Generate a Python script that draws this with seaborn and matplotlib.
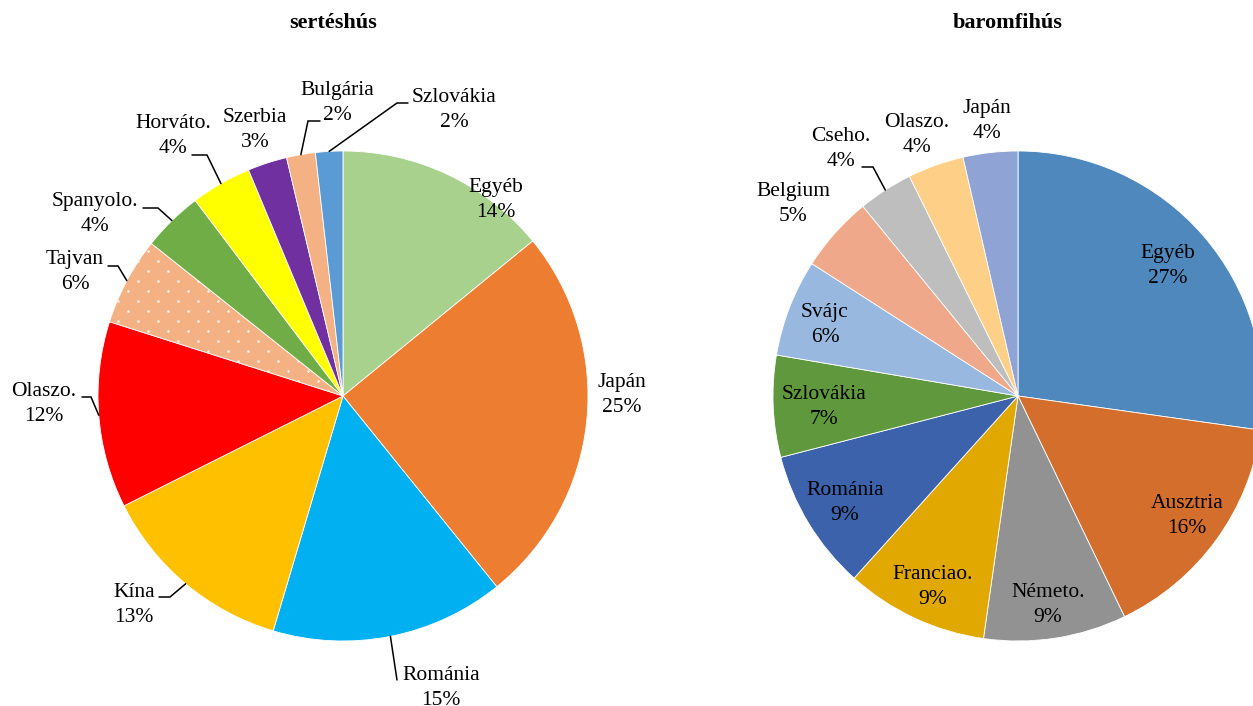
import numpy as np
import matplotlib
matplotlib.use("Agg")
import matplotlib.pyplot as plt
import seaborn as sns

# -----------------------------
# Data
# -----------------------------
pork_names = ["Egyéb", "Japán", "Románia", "Kína", "Olaszo.", "Tajvan",
              "Spanyolo.", "Horváto.", "Szerbia", "Bulgária", "Szlovákia"]
pork_values = [14.1, 25.1, 15.4, 13.0, 12.3, 5.8, 4.0, 4.0, 2.6, 1.9, 1.8]
pork_colors = ["#A9D18E", "#ED7D31", "#00B0F0", "#FFC000", "#FF0000", "#F4B183",
               "#70AD47", "#FFFF00", "#7030A0", "#F4B183", "#5B9BD5"]

poultry_names = ["Egyéb", "Ausztria", "Németo.", "Franciao.", "Románia", "Szlovákia",
                 "Svájc", "Belgium", "Cseho.", "Olaszo.", "Japán"]
poultry_values = [27.2, 15.6, 9.4, 9.4, 9.3, 6.7, 6.4, 5.0, 3.6, 3.7, 3.6]
poultry_colors = ["#4F88BC", "#D36E2C", "#929292", "#E0A800", "#3B62AB", "#5F983D",
                  "#98B8DF", "#F0A88A", "#BEBEBE", "#FECF87", "#8FA3D4"]

# -----------------------------
# Layout (pixels, from top-left)
# -----------------------------
W, H = 1253, 706
R = 245
pork_center = (343, 396)
poultry_center = (1018, 396)

# label block centre, optional leader (elbow, end)
pork_labels = [
    ((496, 200), None),
    ((622, 395), None),
    ((441, 688), ((397, 680), (397, 680))),
    ((134, 605), ((170, 597), (159, 597))),
    ((44, 404), ((91, 397), (82, 397))),
    ((75, 272), ((118, 266), (108, 266))),
    ((95, 214), ((158, 208), (143, 208))),
    ((173, 136), ((207, 155), (192, 155))),
    ((255, 130), None),
    ((337, 103), ((308, 121), (320, 121))),
    ((454, 110), ((397, 103), (408, 103))),
]
poultry_labels = [
    ((1168, 266), None),
    ((1187, 516), None),
    ((1048, 605), None),
    ((933, 587), None),
    ((845, 503), None),
    ((824, 407), None),
    ((825, 325), None),
    ((793, 204), None),
    ((841, 149), ((873, 167), (862, 167))),
    ((917, 135), None),
    ((987, 121), None),
]

sns.set_theme(style="white")
plt.rcParams["font.family"] = ["Liberation Serif", "DejaVu Serif"]


def fy(y):
    return H - y


fig = plt.figure(figsize=(W / 100, H / 100), dpi=100)
ax = fig.add_axes([0, 0, 1, 1])


def dot_fill(wedge, cx, cy):
    # white dotted texture (staggered grid) clipped to the wedge
    pts = []
    for i, y in enumerate(np.arange(cy - R, cy + R, 10)):
        off = 10 if i % 2 else 0
        for x in np.arange(cx - R + off, cx + R, 20):
            pts.append((x, y))
    pts = np.array(pts)
    sc = ax.scatter(pts[:, 0], pts[:, 1], s=3.5, c="white", linewidths=0,
                    alpha=0.85, zorder=wedge.get_zorder() + 0.1)
    sc.set_clip_path(wedge)


def draw_pie(names, values, colors, center, labels, title, dotted_idx=None):
    cx, cy = center
    wedges, _ = ax.pie(values, colors=colors, startangle=90, counterclock=False,
                       center=(cx, fy(cy)), radius=R,
                       wedgeprops=dict(edgecolor="white", linewidth=0.6))
    if dotted_idx is not None:
        dot_fill(wedges[dotted_idx], cx, fy(cy))
    total = sum(values)
    for w, name, val, (pos, leader) in zip(wedges, names, values, labels):
        pct = round(100 * val / total)
        ax.text(pos[0], fy(pos[1]), f"{name}\n{pct}%", ha="center", va="center",
                fontsize=15.5, linespacing=1.42, color="black")
        if leader is not None:
            mid = np.deg2rad((w.theta1 + w.theta2) / 2)
            ax0 = cx + R * np.cos(mid)
            ay0 = fy(cy) + R * np.sin(mid)
            (ex, ey), (tx, ty) = leader
            ax.plot([ax0, ex, tx], [ay0, fy(ey), fy(ty)], color="black", lw=1.1,
                    solid_joinstyle="miter")
    ax.text(cx - 10, fy(23), title, ha="center", va="center", fontsize=16,
            fontweight="bold", color="black")


draw_pie(pork_names, pork_values, pork_colors, pork_center, pork_labels,
         "sertéshús", dotted_idx=5)
draw_pie(poultry_names, poultry_values, poultry_colors, poultry_center, poultry_labels,
         "baromfihús")

ax.set_xlim(0, W)
ax.set_ylim(0, H)
ax.set_aspect("auto")
ax.axis("off")

fig.savefig("out.png", dpi=100, facecolor="white")
